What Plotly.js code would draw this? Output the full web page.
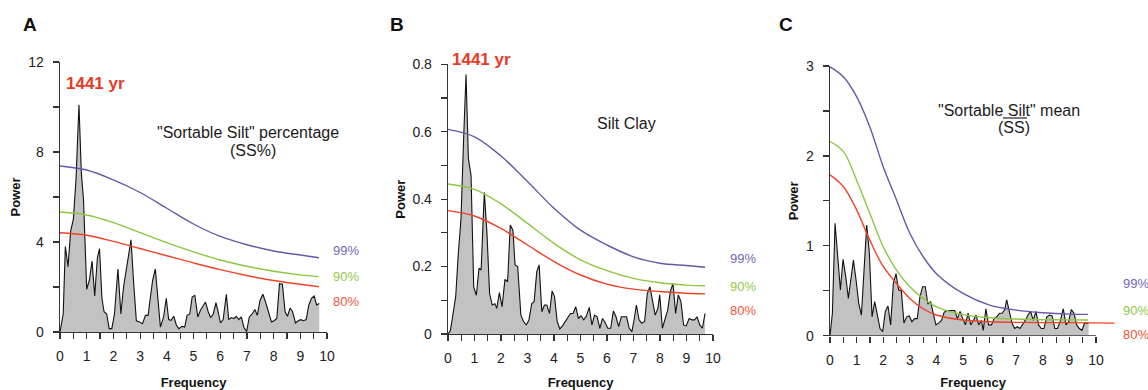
<!DOCTYPE html>
<html>
<head>
<meta charset="utf-8">
<script src="https://cdn.plot.ly/plotly-3.0.1.min.js"></script>
<style>html,body{margin:0;padding:0;background:#fff;}#chart{width:1148px;height:390px;}</style>
</head>
<body>
<div id="chart"></div>
<script>
// ---------- DATA ----------
// Panel A: "Sortable Silt" percentage (SS%)
const freqA = [0,0.12,0.2,0.3,0.4,0.5,0.6,0.71,0.8,0.88,1.0,1.1,1.2,1.3,1.4,1.48,1.57,1.65,1.75,1.84,1.94,2.04,2.17,2.28,2.38,2.5,2.66,2.76,2.86,2.98,3.09,3.2,3.3,3.38,3.47,3.57,3.66,3.76,3.88,3.98,4.07,4.16,4.26,4.36,4.45,4.57,4.67,4.76,4.86,4.95,5.05,5.16,5.26,5.36,5.45,5.55,5.64,5.74,5.84,5.91,6.01,6.11,6.23,6.32,6.42,6.52,6.6,6.7,6.79,6.89,6.99,7.09,7.2,7.3,7.39,7.49,7.6,7.7,7.8,7.92,8.02,8.12,8.22,8.33,8.43,8.52,8.62,8.71,8.82,8.92,9.02,9.12,9.22,9.32,9.42,9.52,9.61,9.71];
const powerA = [0,0.8,3.8,2.9,4.5,5.0,6.8,10.1,7.05,5.9,1.9,2.3,3.15,1.6,3.3,3.7,1.5,0.9,0.8,0.15,0.15,0.8,2.8,0.8,2.0,2.9,4.1,2.15,0.5,0.45,0.37,0.74,0.74,1.5,2.3,2.8,1.7,0.22,0.67,1.5,0.55,0.52,0.7,0.3,0.15,0.25,0.22,0.74,0.8,1.55,1.63,0.67,0.97,1.14,1.33,0.9,0.64,0.8,1.3,0.97,0.4,0.55,1.68,0.55,0.64,0.6,0.7,0.55,0.67,0.2,0.03,0.67,0.8,1.0,0.74,1.4,1.68,1.33,0.97,0.45,0.5,0.6,2.15,2.12,0.9,0.7,1.07,0.9,0.4,0.5,0.55,0.5,0.55,1.2,1.5,1.6,1.2,1.27];
const confFreqA = [0,1,2,3,4,5,6,7,8,9,9.7];
const a99 = [7.38,7.2,6.76,6.2,5.5,4.8,4.25,3.88,3.6,3.42,3.3];
const a90 = [5.33,5.2,4.86,4.42,3.97,3.56,3.2,2.92,2.7,2.54,2.46];
const a80 = [4.41,4.3,4.03,3.71,3.39,3.07,2.77,2.51,2.29,2.12,2.01];

// Panel B: Silt Clay
const freqB = [0,0.09,0.19,0.29,0.39,0.49,0.59,0.68,0.77,0.87,0.97,1.07,1.17,1.25,1.37,1.47,1.57,1.67,1.77,1.84,1.94,2.04,2.15,2.25,2.35,2.45,2.53,2.63,2.75,2.85,2.95,3.05,3.16,3.25,3.35,3.44,3.54,3.64,3.73,3.83,3.93,4.02,4.12,4.22,4.32,4.42,4.52,4.62,4.72,4.82,4.92,5.02,5.12,5.22,5.33,5.43,5.53,5.63,5.73,5.83,5.93,6.03,6.14,6.24,6.34,6.44,6.54,6.64,6.74,6.84,6.94,7.03,7.11,7.21,7.31,7.42,7.52,7.62,7.72,7.82,7.92,7.99,8.09,8.19,8.29,8.39,8.49,8.59,8.69,8.79,8.89,8.99,9.1,9.2,9.3,9.4,9.5,9.6,9.7];
const powerB = [0,0.01,0.06,0.11,0.24,0.34,0.58,0.77,0.52,0.47,0.14,0.115,0.195,0.19,0.42,0.3,0.12,0.086,0.09,0.076,0.123,0.081,0.162,0.155,0.323,0.308,0.205,0.2,0.056,0.037,0.027,0.04,0.09,0.096,0.185,0.205,0.066,0.086,0.086,0.061,0.128,0.11,0.037,0.015,0.024,0.037,0.051,0.061,0.061,0.081,0.046,0.054,0.042,0.053,0.079,0.027,0.056,0.051,0.017,0.046,0.034,0.017,0.017,0.068,0.051,0.022,0.051,0.051,0.051,0.017,0.007,0.046,0.086,0.042,0.032,0.037,0.12,0.14,0.096,0.056,0.076,0.116,0.017,0.046,0.071,0.126,0.15,0.061,0.116,0.096,0.027,0.024,0.046,0.042,0.042,0.051,0.027,0.017,0.061];
const confFreqB = [0,1,2,3,4,5,6,7,8,9,9.7];
const b99 = [0.607,0.585,0.528,0.452,0.373,0.308,0.264,0.229,0.21,0.203,0.198];
const b90 = [0.445,0.429,0.386,0.328,0.269,0.22,0.188,0.165,0.152,0.145,0.143];
const b80 = [0.366,0.35,0.313,0.264,0.215,0.175,0.148,0.133,0.126,0.121,0.119];

// Panel C: "Sortable Silt" mean (SS)
const freqC = [0,0.09,0.19,0.29,0.39,0.49,0.59,0.69,0.79,0.88,0.98,1.08,1.18,1.28,1.38,1.48,1.58,1.68,1.78,1.88,1.98,2.08,2.18,2.28,2.38,2.48,2.58,2.68,2.78,2.88,2.98,3.08,3.18,3.28,3.38,3.48,3.58,3.68,3.78,3.88,3.98,4.08,4.19,4.29,4.39,4.49,4.59,4.69,4.79,4.89,4.99,5.09,5.19,5.29,5.39,5.49,5.59,5.69,5.76,5.86,5.96,6.07,6.17,6.27,6.37,6.47,6.57,6.64,6.74,6.84,6.94,7.04,7.14,7.24,7.34,7.44,7.54,7.64,7.74,7.84,7.94,8.04,8.15,8.25,8.35,8.45,8.55,8.65,8.77,8.87,8.97,9.07,9.17,9.27,9.37,9.47,9.57,9.72];
const powerC = [0,0.25,1.25,0.84,0.51,0.85,0.66,0.415,0.66,0.84,0.62,0.36,0.23,0.73,1.23,0.92,0.21,0.38,0.21,0.08,0.045,0.27,0.33,0.12,0.58,0.69,0.51,0.5,0.14,0.21,0.22,0.156,0.19,0.19,0.43,0.545,0.545,0.35,0.38,0.25,0.12,0.14,0.17,0.26,0.28,0.28,0.28,0.28,0.19,0.27,0.19,0.12,0.25,0.12,0.17,0.23,0.12,0.17,0.06,0.3,0.12,0.12,0.19,0.21,0.25,0.25,0.29,0.40,0.27,0.14,0.08,0.1,0.08,0.12,0.17,0.23,0.27,0.17,0.27,0.12,0.08,0.08,0.21,0.23,0.22,0.08,0.08,0.156,0.3,0.12,0.156,0.29,0.25,0.12,0.08,0.06,0.14,0.14];
const confFreqC = [0,0.5,1,1.5,2,2.5,3,3.5,4,5,6,7,8,9,9.7];
const c99 = [2.99,2.88,2.66,2.32,1.88,1.51,1.14,0.88,0.69,0.47,0.34,0.285,0.256,0.24,0.237];
const c90 = [2.16,2.05,1.73,1.36,0.99,0.73,0.545,0.415,0.32,0.235,0.2,0.185,0.178,0.176,0.175];
const confFreqC80 = [0,0.5,1,1.5,2,2.5,3,3.5,4,5,6,7,8,9,10.7];
const c80 = [1.79,1.66,1.40,1.06,0.77,0.58,0.415,0.30,0.23,0.174,0.156,0.148,0.145,0.145,0.14];

const levelLabels = ["99%","90%","80%"];
const peakLabel = "1441 yr";
const panelLetters = ["A","B","C"];

// ---------- STYLE ----------
const W = 1148, H = 390;
const FONT = "Liberation Sans, Arial, Helvetica, sans-serif";
const COL99 = "#6558a8", COL90 = "#8dc641", COL80 = "#ef4327";
const LAB99 = "#7468b6", LAB90 = "#93c84a", LAB80 = "#f05538";
const AXC = "#333333";
const px = v => v / W;
const py = v => 1 - v / H;

function specTrace(x, y, xa, ya) {
  return {x: x, y: y, xaxis: xa, yaxis: ya, type: "scatter", mode: "lines",
    fill: "tozeroy", fillcolor: "#c2c2c2", line: {color: "#111", width: 1.1},
    hoverinfo: "x+y", showlegend: false};
}
function confTrace(x, y, xa, ya, col) {
  return {x: x, y: y, xaxis: xa, yaxis: ya, type: "scatter", mode: "lines",
    line: {color: col, width: 1.4, shape: "spline", smoothing: 1.0}, showlegend: false};
}

const data = [
  specTrace(freqA, powerA, "x", "y"),
  confTrace(confFreqA, a99, "x", "y", COL99),
  confTrace(confFreqA, a90, "x", "y", COL90),
  confTrace(confFreqA, a80, "x", "y", COL80),
  specTrace(freqB, powerB, "x2", "y2"),
  confTrace(confFreqB, b99, "x2", "y2", COL99),
  confTrace(confFreqB, b90, "x2", "y2", COL90),
  confTrace(confFreqB, b80, "x2", "y2", COL80),
  specTrace(freqC, powerC, "x3", "y3"),
  confTrace(confFreqC, c99, "x3", "y3", COL99),
  confTrace(confFreqC, c90, "x3", "y3", COL90),
  confTrace(confFreqC80, c80, "x3", "y3", COL80)
];

const tickFont = {family: FONT, size: 14, color: "#222"};
const titleFont = {family: FONT, size: 13, color: "#111", weight: 700};

function xAxis(domain, range, showline, anchor) {
  return {
    domain: domain, range: range, anchor: anchor, showgrid: false, zeroline: false,
    showline: showline, linecolor: AXC, linewidth: 1.3,
    ticks: "outside", ticklen: 6, tickwidth: 1.2, tickcolor: AXC,
    tickmode: "linear", tick0: 0, dtick: 1, tickfont: tickFont, ticklabelstandoff: 5,
    minor: {tickmode: "linear", tick0: 0.5, dtick: 1, ticks: "outside", ticklen: 6, tickwidth: 1.2, tickcolor: AXC},
    title: {text: "Frequency", font: titleFont, standoff: 14}, fixedrange: true
  };
}
function yAxis(domain, range, dtick, anchor) {
  return {
    domain: domain, range: range, anchor: anchor, showgrid: false, zeroline: false,
    showline: true, linecolor: AXC, linewidth: 1.3,
    ticks: "outside", ticklen: 6, tickwidth: 1.2, tickcolor: AXC,
    tickmode: "linear", tick0: 0, dtick: dtick, tickfont: tickFont, ticklabelstandoff: 6,
    minor: {tickmode: "linear", tick0: 0, dtick: dtick / 2, ticks: "outside", ticklen: 6, tickwidth: 1.2, tickcolor: AXC},
    title: {text: "Power", font: titleFont, standoff: 4}, fixedrange: true
  };
}

const xaxC = xAxis([px(830), px(1116)], [0, 10.75], false, "y3");
xaxC.tickmode = "array"; xaxC.tickvals = [0,1,2,3,4,5,6,7,8,9,10];
xaxC.minor = {tickmode: "array", tickvals: [0.5,1.5,2.5,3.5,4.5,5.5,6.5,7.5,8.5,9.5], ticks: "outside", ticklen: 6, tickwidth: 1.2, tickcolor: AXC};

const layout = {
  width: W, height: H, margin: {l: 0, r: 0, t: 0, b: 0},
  paper_bgcolor: "#ffffff", plot_bgcolor: "rgba(0,0,0,0)",
  font: {family: FONT, color: "#222"},
  showlegend: false,
  xaxis: xAxis([px(60), px(327)], [0, 10], true, "y"),
  yaxis: yAxis([py(332), py(62)], [0, 12], 4, "x"),
  xaxis2: xAxis([px(448), px(713)], [0, 10], true, "y2"),
  yaxis2: yAxis([py(334), py(64.3)], [0, 0.8], 0.2, "x2"),
  xaxis3: xaxC,
  yaxis3: yAxis([py(335.7), py(66)], [0, 3], 1, "x3"),
  shapes: [
    {type: "line", xref: "x3", yref: "y3", x0: 0, x1: 10, y0: 0, y1: 0, line: {color: AXC, width: 1.3}, layer: "above"},
    {type: "line", xref: "paper", yref: "paper", x0: px(1003), x1: px(1027), y0: py(118), y1: py(118), line: {color: "#222", width: 1.2}}
  ],
  annotations: [
    {text: "<b>" + panelLetters[0] + "</b>", x: px(30), y: py(24), font: {size: 19, color: "#111"}},
    {text: "<b>" + panelLetters[1] + "</b>", x: px(397), y: py(24), font: {size: 19, color: "#111"}},
    {text: "<b>" + panelLetters[2] + "</b>", x: px(786), y: py(24), font: {size: 19, color: "#111"}},
    {text: "<b>" + peakLabel + "</b>", x: px(95), y: py(83), font: {size: 17, color: "#e63b29"}},
    {text: "<b>" + peakLabel + "</b>", x: px(481), y: py(59), font: {size: 17, color: "#e63b29"}},
    {text: "\"Sortable Silt\" percentage", x: px(248), y: py(132), font: {size: 16, color: "#1a1a1a"}},
    {text: "(SS%)", x: px(253), y: py(150), font: {size: 16, color: "#1a1a1a"}},
    {text: "Silt Clay", x: px(626), y: py(123), font: {size: 16, color: "#1a1a1a"}},
    {text: "\"Sortable Silt\" mean", x: px(1009), y: py(110), font: {size: 16, color: "#1a1a1a"}},
    {text: "(SS)", x: px(1014), y: py(128), font: {size: 16, color: "#1a1a1a"}},
    {text: levelLabels[0], x: px(346), y: py(250), font: {size: 13, color: LAB99}},
    {text: levelLabels[1], x: px(346), y: py(276), font: {size: 13, color: LAB90}},
    {text: levelLabels[2], x: px(346), y: py(301), font: {size: 13, color: LAB80}},
    {text: levelLabels[0], x: px(743), y: py(258), font: {size: 13, color: LAB99}},
    {text: levelLabels[1], x: px(743), y: py(286), font: {size: 13, color: LAB90}},
    {text: levelLabels[2], x: px(743), y: py(310), font: {size: 13, color: LAB80}},
    {text: levelLabels[0], x: px(1121), y: py(283), xanchor: "left", font: {size: 13, color: LAB99}},
    {text: levelLabels[1], x: px(1121), y: py(310), xanchor: "left", font: {size: 13, color: LAB90}},
    {text: levelLabels[2], x: px(1121), y: py(334), xanchor: "left", font: {size: 13, color: LAB80}}
  ].map(a => Object.assign({xref: "paper", yref: "paper", showarrow: false, xanchor: "center", yanchor: "middle"}, a))
};

Plotly.newPlot("chart", data, layout, {displayModeBar: false, staticPlot: true});
</script>
</body>
</html>
